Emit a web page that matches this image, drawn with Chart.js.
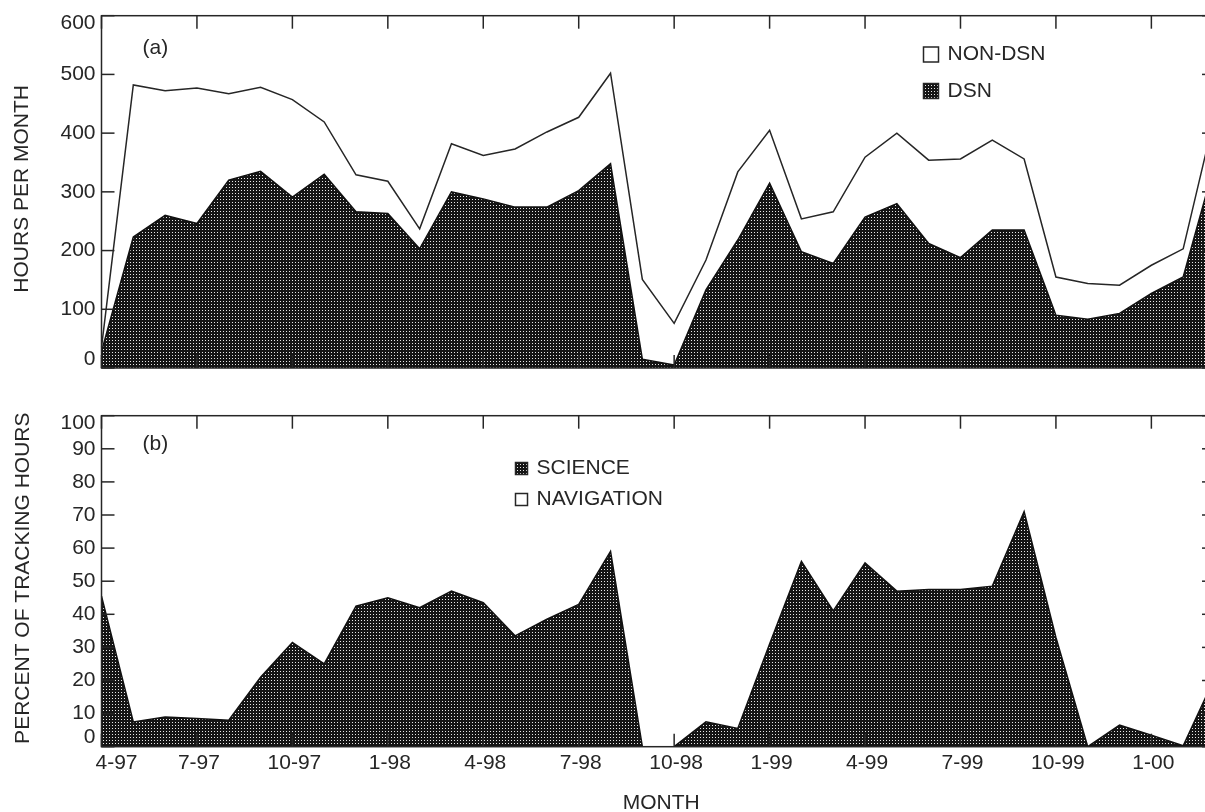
<!DOCTYPE html>
<html>
<head>
<meta charset="utf-8">
<script src="https://cdn.jsdelivr.net/npm/chart.js@4/dist/chart.umd.min.js"></script>
<style>
  html, body { margin: 0; padding: 0; background: #fff; overflow: hidden; width: 1205px; height: 812px; }
  .panel { position: absolute; left: 0; }
  #top-wrap { top: 0; }
  #bot-wrap { top: 400px; }
</style>
</head>
<body>
<div class="panel" id="top-wrap"><canvas id="chart-hours" width="1230" height="400"></canvas></div>
<div class="panel" id="bot-wrap"><canvas id="chart-pct" width="1230" height="412"></canvas></div>
<script>
// --- Data ---
const months = [
  '4-97', '5-97', '6-97', '7-97', '8-97', '9-97', '10-97', '11-97', '12-97',
  '1-98', '2-98', '3-98', '4-98', '5-98', '6-98', '7-98', '8-98', '9-98', '10-98', '11-98', '12-98',
  '1-99', '2-99', '3-99', '4-99', '5-99', '6-99', '7-99', '8-99', '9-99', '10-99', '11-99', '12-99',
  '1-00', '2-00', '3-00'
];
// total tracking hours (DSN + non-DSN) -> top outline
const totalHours = [35, 482, 472, 477, 467, 478, 457, 419, 329, 318, 237, 382, 362, 373, 402, 427, 502, 151, 76, 184,
  334, 405, 254, 266, 359, 400, 354, 356, 388, 356, 155, 144, 141, 175, 203, 432];
const dsnHours = [28, 223, 260, 246, 320, 335, 291, 330, 266, 263, 203, 300, 288, 274, 274, 302, 348, 15, 5, 133,
  218, 315, 198, 178, 257, 280, 212, 188, 235, 235, 90, 83, 93, 127, 155, 350];
const sciencePct = [45.5, 7.5, 9, 8.5, 8, 21, 31.5, 25, 42.5, 45, 42, 47, 43.5, 33.5, 38.5, 43, 59, 0, 0, 7.5,
  5.5, 31, 56, 41, 55.5, 47, 47.5, 47.5, 48.5, 71, 33, 0, 6.5, 3.5, 0.3, 21];

const tickMonths = ['4-97', '7-97', '10-97', '1-98', '4-98', '7-98', '10-98', '1-99', '4-99', '7-99', '10-99', '1-00'];
const hoursTicks = [0, 100, 200, 300, 400, 500, 600];
const pctTicks = [0, 10, 20, 30, 40, 50, 60, 70, 80, 90, 100];

// --- Style ---
const INK = '#262626';
const FONT = '21px "Liberation Sans", Arial, sans-serif';
const TICK_LEN = 13;

function makeStipple() {
  const c = document.createElement('canvas');
  c.width = 3; c.height = 3;
  const g = c.getContext('2d');
  g.fillStyle = '#151515';
  g.fillRect(0, 0, 3, 3);
  g.fillStyle = '#e8e8e8';
  g.fillRect(1, 1, 1, 1);
  return g.createPattern(c, 'repeat');
}
const stipple = makeStipple();

// --- Frame, inward ticks, labels, legend ---
const panelDecor = {
  id: 'panelDecor',
  afterDatasetsDraw(chart, args, o) {
    const { ctx, chartArea: a, scales: { x, y } } = chart;
    ctx.save();
    ctx.strokeStyle = INK;
    ctx.lineWidth = 1.5;
    ctx.strokeRect(a.left, a.top, a.right - a.left, a.bottom - a.top);

    const seg = (x1, y1, x2, y2) => { ctx.beginPath(); ctx.moveTo(x1, y1); ctx.lineTo(x2, y2); ctx.stroke(); };
    tickMonths.forEach(m => {
      const px = x.getPixelForValue(months.indexOf(m));
      seg(px, a.top, px, a.top + TICK_LEN);
      seg(px, a.bottom, px, a.bottom - TICK_LEN);
    });
    o.yTicks.forEach(v => {
      const py = y.getPixelForValue(v);
      seg(a.left, py, a.left + TICK_LEN, py);
      seg(a.right, py, a.right - TICK_LEN, py);
    });

    ctx.font = FONT;
    ctx.fillStyle = INK;
    ctx.textAlign = 'right';
    ctx.textBaseline = 'middle';
    o.yTicks.forEach((v, i) => {
      let py = y.getPixelForValue(v);
      if (i === 0) py -= 9;
      if (i === o.yTicks.length - 1) py += 8;
      ctx.fillText(String(v), a.left - 6, py);
    });

    // y title
    ctx.save();
    ctx.translate(o.titleX, (a.top + a.bottom) / 2 - 3);
    ctx.rotate(-Math.PI / 2);
    ctx.textAlign = 'center';
    ctx.fillText(o.yTitle, 0, 0);
    ctx.restore();

    // panel tag
    ctx.textAlign = 'left';
    ctx.fillText(o.tag, a.left + 41, a.top + o.tagDy);

    // legend
    o.legend.forEach(item => {
      const s = item.size;
      ctx.fillStyle = item.fill === 'stipple' ? stipple : '#fff';
      ctx.fillRect(item.x, item.y - s / 2, s, s);
      ctx.strokeRect(item.x, item.y - s / 2, s, s);
      ctx.fillStyle = INK;
      ctx.fillText(item.text, item.x + s + 9, item.y);
    });

    // month labels
    if (o.xLabels) {
      ctx.textAlign = 'center';
      tickMonths.forEach((m, i) => {
        let px = x.getPixelForValue(months.indexOf(m)) + 2;
        if (i === 0) px += 13;
        ctx.fillText(m, px, a.bottom + 17);
      });
      ctx.fillText('MONTH', (a.left + a.right) / 2 + 3, a.bottom + 57);
    }
    ctx.restore();
  }
};

function baseOptions(yMax, padding, decor) {
  return {
    responsive: false,
    animation: false,
    layout: { padding },
    plugins: { legend: { display: false }, tooltip: { enabled: false }, panelDecor: decor },
    elements: { point: { radius: 0 }, line: { tension: 0 } },
    scales: {
      x: { type: 'category', display: false, offset: false },
      y: { type: 'linear', display: false, min: 0, max: yMax }
    }
  };
}

// --- Top: hours per month ---
new Chart(document.getElementById('chart-hours').getContext('2d'), {
  type: 'line',
  data: {
    labels: months,
    datasets: [
      { label: 'NON-DSN', data: totalHours, borderColor: INK, borderWidth: 1.5, fill: false, order: 0 },
      { label: 'DSN', data: dsnHours, borderColor: '#111', borderWidth: 1.5, backgroundColor: stipple, fill: 'origin', order: 1 }
    ]
  },
  options: baseOptions(600, { left: 101.5, top: 15.7, right: 15, bottom: 32 }, {
    yTicks: hoursTicks,
    yTitle: 'HOURS PER MONTH',
    titleX: 22,
    tag: '(a)',
    tagDy: 33,
    xLabels: false,
    legend: [
      { text: 'NON-DSN', fill: 'white', x: 923.5, y: 54.5, size: 15 },
      { text: 'DSN', fill: 'stipple', x: 923.5, y: 91, size: 15 }
    ]
  }),
  plugins: [panelDecor]
});

// --- Bottom: percent of tracking hours ---
new Chart(document.getElementById('chart-pct').getContext('2d'), {
  type: 'line',
  data: {
    labels: months,
    datasets: [
      { label: 'SCIENCE', data: sciencePct, borderColor: '#111', borderWidth: 1.5, backgroundColor: stipple, fill: 'origin' }
    ]
  },
  options: baseOptions(100, { left: 101.5, top: 15.7, right: 15, bottom: 65.3 }, {
    yTicks: pctTicks,
    yTitle: 'PERCENT OF TRACKING HOURS',
    titleX: 23,
    tag: '(b)',
    tagDy: 29,
    xLabels: true,
    legend: [
      { text: 'SCIENCE', fill: 'stipple', x: 515.5, y: 68.5, size: 12 },
      { text: 'NAVIGATION', fill: 'white', x: 515.5, y: 99.5, size: 12 }
    ]
  }),
  plugins: [panelDecor]
});
</script>
</body>
</html>
